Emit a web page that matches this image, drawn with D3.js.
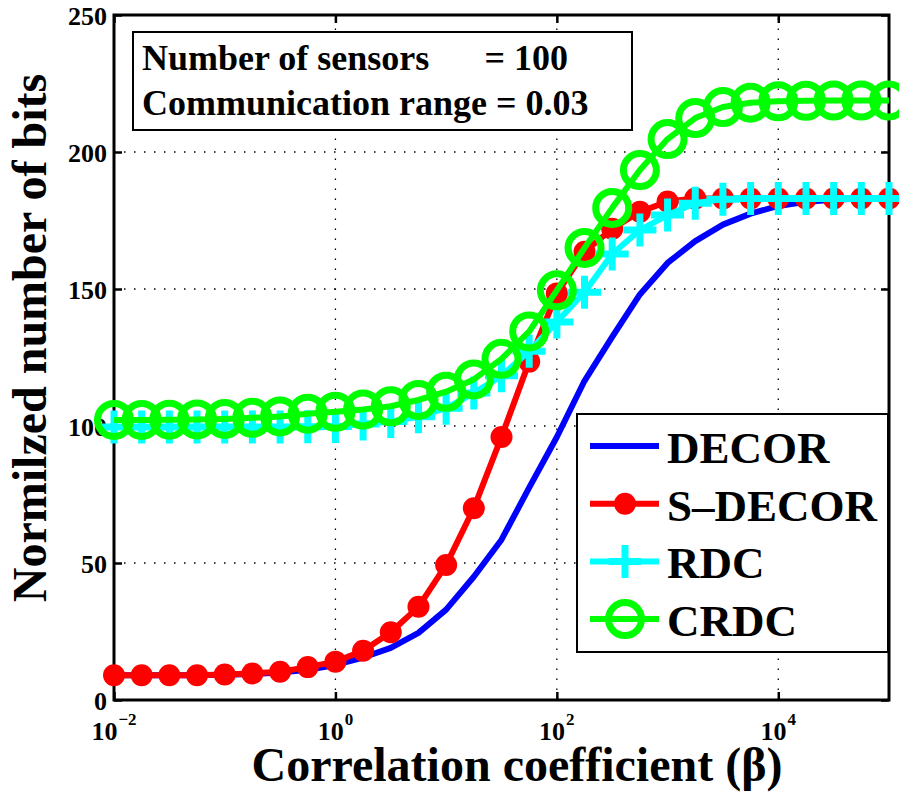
<!DOCTYPE html>
<html>
<head>
<meta charset="utf-8">
<script src="https://cdn.jsdelivr.net/npm/d3@7"></script>
<style>
  body { margin: 0; background: #fff; }
</style>
</head>
<body>
<svg id="chart" width="899" height="794"></svg>
<script>
// log10 of the correlation coefficient at each sample
const betaExponents = [-2, -1.75, -1.5, -1.25, -1, -0.75, -0.5, -0.25, 0, 0.25, 0.5, 0.75, 1, 1.25, 1.5, 1.75,
  2, 2.25, 2.5, 2.75, 3, 3.25, 3.5, 3.75, 4, 4.25, 4.5, 4.75, 5];

const decorBits  = [9, 9, 9, 9, 9.2, 9.5, 10, 11, 12.8, 15.5, 19, 24.5, 33, 45, 58.5, 77.5,
  96, 116.5, 132.5, 148, 159.5, 167.5, 173.5, 177.5, 180.3, 181.8, 182.6, 183, 183];
const sDecorBits = [9, 9, 9, 9, 9.3, 9.7, 10.3, 12, 14, 18, 24.7, 34, 49.3, 70, 96, 123.5,
  148.4, 163.6, 172, 178.2, 181.9, 183, 183, 183, 183, 183, 183, 183, 183];
const rdcBits    = [99.6, 99.6, 99.6, 99.6, 99.6, 99.6, 99.6, 99.7, 99.8, 100.7, 101.6, 103.4, 106.5, 112, 118.3, 127.3,
  138, 148.8, 162.8, 171.5, 177, 181.3, 182.8, 183, 183, 183, 183, 183, 183];
const crdcBits   = [102.2, 102.2, 102.3, 102.4, 102.6, 103, 103.5, 104.5, 105.2, 106, 107.2, 109.5, 112.5, 117, 124.5, 134.5,
  149.5, 165, 179.6, 193.4, 204.7, 212.4, 216.4, 218, 218.5, 218.7, 218.8, 218.8, 218.8];

const seriesNames  = ["DECOR", "S\u2013DECOR", "RDC", "CRDC"];
const xTickExponents = [-2, 0, 2, 4];
const yTickValues  = [0, 50, 100, 150, 200, 250];
const infoLines = ["Number of sensors", "= 100", "Communication range = 0.03"];

// bold Times-style face for every label
function serifBold(sel) {
  sel.style("font-family", '"Liberation Serif"').attr("font-weight", "bold");
}

const svg = d3.select("#chart");
const x = d3.scaleLog().domain([1e-2, 1e5]).range([114, 889]);
const y = d3.scaleLinear().domain([0, 250]).range([700, 15]);
const [x0, x1] = x.range();
const [y0, y1] = y.range();

// dotted grid
const grid = svg.append("g").attr("stroke", "#000").attr("stroke-width", 1.3)
  .attr("stroke-dasharray", "1.5,8.5");
xTickExponents.filter(e => x(10 ** e) > x0 + 1).forEach(e => {
  grid.append("line").attr("x1", x(10 ** e)).attr("x2", x(10 ** e)).attr("y1", y0).attr("y2", y1);
});
yTickValues.filter(v => v > 0 && v < 250).forEach(v => {
  grid.append("line").attr("x1", x0).attr("x2", x1).attr("y1", y(v)).attr("y2", y(v));
});

// inward ticks on all four sides
const xTicks = xTickExponents.map(e => 10 ** e);
const styleAxis = g => {
  g.select(".domain").remove();
  g.selectAll(".tick line").attr("stroke", "#000").attr("stroke-width", 2.5);
  g.selectAll(".tick text").remove();
};
svg.append("g").attr("transform", `translate(0,${y0})`)
  .call(d3.axisBottom(x).tickValues(xTicks).tickSize(-8)).call(styleAxis);
svg.append("g").attr("transform", `translate(0,${y1})`)
  .call(d3.axisTop(x).tickValues(xTicks).tickSize(-8)).call(styleAxis);
svg.append("g").attr("transform", `translate(${x1},0)`)
  .call(d3.axisRight(y).tickValues(yTickValues).tickSize(-8)).call(styleAxis);
svg.append("g").attr("transform", `translate(${x0},0)`)
  .call(d3.axisLeft(y).tickValues(yTickValues).tickSize(-8)).call(styleAxis);

// y tick labels
const yLabels = svg.append("g");
yTickValues.forEach(v => {
  yLabels.append("text").attr("x", x0 - 7).attr("y", y(v) + 10).attr("text-anchor", "end")
    .attr("font-size", 26).call(serifBold).text(d3.format("d")(v));
});

// x tick labels as powers of ten: base and exponent centred together on the tick
const xLabels = svg.append("g");
xTickExponents.forEach(e => {
  const base = xLabels.append("text").attr("y", 740).attr("font-size", 26).call(serifBold).text("10");
  const sup = xLabels.append("text").attr("y", 725).attr("font-size", 17).call(serifBold)
    .text(e < 0 ? "\u2212" + Math.abs(e) : String(e));
  const wBase = base.node().getComputedTextLength();
  const wSup = sup.node().getComputedTextLength();
  const left = x(10 ** e) - (wBase + 1 + wSup) / 2;
  base.attr("x", left);
  sup.attr("x", left + wBase + 1);
});

// frame
svg.append("rect").attr("x", x0).attr("y", y1).attr("width", x1 - x0).attr("height", y0 - y1)
  .attr("fill", "none").attr("stroke", "#000").attr("stroke-width", 3);

// axis titles
svg.append("text").attr("x", 517).attr("y", 781).attr("text-anchor", "middle")
  .attr("font-size", 48).call(serifBold).text("Correlation coefficient (\u03b2)");
svg.append("text").attr("transform", "translate(46,338) rotate(-90)").attr("text-anchor", "middle")
  .attr("font-size", 48).call(serifBold).text("Normilzed number of bits");

// series
const seriesData = [decorBits, sDecorBits, rdcBits, crdcBits].map((vals, i) => ({
  name: seriesNames[i],
  points: vals.map((v, j) => ({ beta: 10 ** betaExponents[j], v }))
}));
const colors = ["#0000ff", "#ff0000", "#00ffff", "#00ff00"];
const markers = ["none", "dot", "plus", "circle"];

const line = d3.line().x(d => x(d.beta)).y(d => y(d.v));

function drawMarker(g, kind, cx, cy, color) {
  if (kind === "dot") {
    g.append("circle").attr("cx", cx).attr("cy", cy).attr("r", 11).attr("fill", color);
  } else if (kind === "plus") {
    g.append("path").attr("d", `M${cx - 16.5},${cy}H${cx + 16.5}M${cx},${cy - 16.5}V${cy + 16.5}`)
      .attr("stroke", color).attr("stroke-width", 7).attr("fill", "none");
  } else if (kind === "circle") {
    g.append("circle").attr("cx", cx).attr("cy", cy).attr("r", 16.5)
      .attr("fill", "none").attr("stroke", color).attr("stroke-width", 7);
  }
}

seriesData.forEach((s, i) => {
  const g = svg.append("g");
  g.append("path").datum(s.points).attr("d", line).attr("fill", "none")
    .attr("stroke", colors[i]).attr("stroke-width", 6).attr("stroke-linejoin", "round");
  if (markers[i] !== "none") {
    s.points.forEach(p => drawMarker(g, markers[i], x(p.beta), y(p.v), colors[i]));
  }
});

// legend
const legend = svg.append("g");
legend.append("rect").attr("x", 577).attr("y", 414).attr("width", 311).attr("height", 238)
  .attr("fill", "#fff").attr("stroke", "#000").attr("stroke-width", 2);
seriesNames.forEach((name, i) => {
  const ry = 446 + i * 57.7;
  legend.append("line").attr("x1", 590).attr("x2", 659).attr("y1", ry).attr("y2", ry)
    .attr("stroke", colors[i]).attr("stroke-width", 6);
  drawMarker(legend, markers[i], 625, ry, colors[i]);
  legend.append("text").attr("x", 667).attr("y", ry + 17).attr("font-size", 45).call(serifBold).text(name);
});

// parameter box
const info = svg.append("g");
info.append("rect").attr("x", 133).attr("y", 32).attr("width", 499).attr("height", 98)
  .attr("fill", "#fff").attr("stroke", "#000").attr("stroke-width", 2);
info.append("text").attr("x", 142).attr("y", 70).attr("font-size", 36).call(serifBold).text(infoLines[0]);
info.append("text").attr("x", 568).attr("y", 70).attr("text-anchor", "end").attr("font-size", 36)
  .call(serifBold).text(infoLines[1]);
info.append("text").attr("x", 142).attr("y", 115).attr("font-size", 36).call(serifBold).text(infoLines[2]);
</script>
</body>
</html>
